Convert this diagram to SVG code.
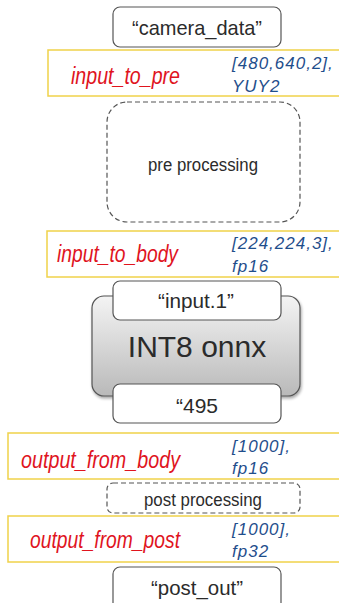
<svg xmlns="http://www.w3.org/2000/svg" width="339" height="603" viewBox="0 0 339 603">
<style>
.bg{fill:#ffffff}
.box{fill:#ffffff;stroke:#555555;stroke-width:1.2}
.dash{fill:#ffffff;stroke:#555555;stroke-width:1.2;stroke-dasharray:5,3}
.band{fill:#ffffff;stroke:#f0d24a;stroke-width:1.5}
.t{font-family:"Liberation Sans",Arial,sans-serif;fill:#2b2b2b}
.red{font-family:"Liberation Sans",Arial,sans-serif;fill:#e0141e;font-style:italic;font-size:23px}
.blue{font-family:"Liberation Sans",Arial,sans-serif;fill:#1f4e8c;font-style:italic;font-size:17px;letter-spacing:1px}
</style>
<defs>
<linearGradient id="gray" x1="0" y1="0" x2="0" y2="1">
<stop offset="0" stop-color="#f4f4f4"/>
<stop offset="1" stop-color="#b9b9b9"/>
</linearGradient>
<filter id="sh" x="-10%" y="-10%" width="130%" height="130%">
<feGaussianBlur in="SourceAlpha" stdDeviation="1.5"/>
<feOffset dx="1" dy="2"/>
<feComponentTransfer><feFuncA type="linear" slope="0.35"/></feComponentTransfer>
<feMerge><feMergeNode/><feMergeNode in="SourceGraphic"/></feMerge>
</filter>
</defs>
<rect class="bg" x="0" y="0" width="339" height="603"/>
<g id="connectors"></g>
<g id="camera_data">
<rect class="box" x="113" y="7" width="168" height="40" rx="7"/>
<text class="t" x="197" y="35" font-size="21" text-anchor="middle" textLength="130" lengthAdjust="spacingAndGlyphs">“camera_data”</text>
</g>
<g id="input_to_pre">
<rect class="band" x="48" y="50" width="295" height="46"/>
<text class="red" x="71" y="84" textLength="109" lengthAdjust="spacingAndGlyphs">input_to_pre</text>
<text class="blue" x="232" y="69">[480,640,2],</text>
<text class="blue" x="232" y="92">YUY2</text>
</g>
<g id="pre_processing">
<rect class="dash" x="107" y="102" width="193" height="120" rx="20"/>
<text class="t" x="203" y="171" font-size="18" text-anchor="middle" textLength="110" lengthAdjust="spacingAndGlyphs">pre processing</text>
</g>
<g id="input_to_body">
<rect class="band" x="47" y="231" width="296" height="46"/>
<text class="red" x="57" y="262" textLength="121" lengthAdjust="spacingAndGlyphs">input_to_body</text>
<text class="blue" x="232" y="249">[224,224,3],</text>
<text class="blue" x="232" y="272">fp16</text>
</g>
<g id="int8_onnx">
<rect x="92" y="296" width="208" height="100" rx="12" fill="url(#gray)" stroke="#555555" stroke-width="1.2" filter="url(#sh)"/>
<text class="t" x="197" y="357" font-size="30" text-anchor="middle">INT8 onnx</text>
</g>
<g id="input_1">
<rect class="box" x="113" y="281" width="168" height="39" rx="7"/>
<text class="t" x="196" y="308" font-size="21" text-anchor="middle" textLength="76" lengthAdjust="spacingAndGlyphs">“input.1”</text>
</g>
<g id="out_495">
<rect class="box" x="113" y="384" width="168" height="39" rx="7"/>
<text class="t" x="197" y="413" font-size="21" text-anchor="middle">“495</text>
</g>
<g id="output_from_body">
<rect class="band" x="8" y="433" width="335" height="46"/>
<text class="red" x="21" y="468" textLength="159" lengthAdjust="spacingAndGlyphs">output_from_body</text>
<text class="blue" x="232" y="452">[1000],</text>
<text class="blue" x="232" y="474">fp16</text>
</g>
<g id="post_processing">
<rect class="dash" x="107" y="483" width="193" height="30" rx="6"/>
<text class="t" x="203" y="506" font-size="18" text-anchor="middle" textLength="118" lengthAdjust="spacingAndGlyphs">post processing</text>
</g>
<g id="output_from_post">
<rect class="band" x="8" y="516" width="335" height="46"/>
<text class="red" x="30" y="548" textLength="150" lengthAdjust="spacingAndGlyphs">output_from_post</text>
<text class="blue" x="232" y="535">[1000],</text>
<text class="blue" x="232" y="557">fp32</text>
</g>
<g id="post_out">
<rect class="box" x="113" y="567" width="168" height="45" rx="7"/>
<text class="t" x="197" y="595" font-size="21" text-anchor="middle" textLength="92" lengthAdjust="spacingAndGlyphs">“post_out”</text>
</g>
</svg>
